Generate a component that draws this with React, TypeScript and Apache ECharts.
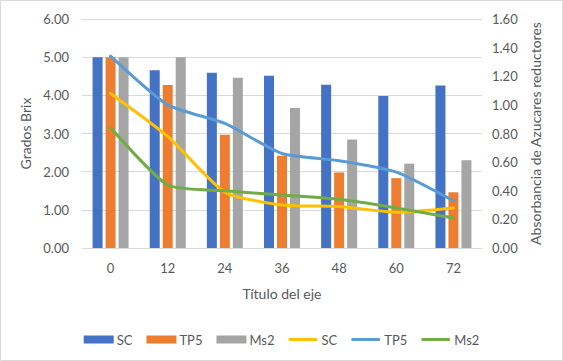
import React, { useEffect, useRef } from "react";
import * as echarts from "echarts";

const categories = ["0", "12", "24", "36", "48", "60", "72"];
const barSC = [5.0, 4.66, 4.59, 4.51, 4.28, 3.98, 4.26];
const barTP5 = [5.0, 4.27, 2.97, 2.42, 1.98, 1.83, 1.46];
const barMs2 = [5.0, 5.0, 4.46, 3.67, 2.84, 2.21, 2.3];
const lineSC = [1.08, 0.78, 0.39, 0.3, 0.29, 0.25, 0.28];
const lineTP5 = [1.34, 1.0, 0.87, 0.66, 0.61, 0.53, 0.33];
const lineMs2 = [0.84, 0.44, 0.4, 0.37, 0.34, 0.28, 0.21];

const FONT = "Lato, 'Open Sans', sans-serif";
const TXT = "#595959";
const LINE_ICON = "path://M0,0L0.001,0M1.5,2.5h29v3h-29a1.5,1.5 0 0 1 0,-3zM32,8L31.999,8";

export default function App() {
  const ref = useRef<HTMLDivElement>(null);
  useEffect(() => {
    if (!ref.current) return;
    const chart = echarts.init(ref.current, undefined, { renderer: "svg" });
    const barCommon = { type: "bar", barWidth: 10, barGap: "30%", yAxisIndex: 0 };
    const lineCommon = {
      type: "line",
      yAxisIndex: 1,
      symbol: "none",
      smooth: 0.2,
      lineStyle: { width: 3, cap: "round", join: "round" },
    };
    chart.setOption({
      animation: false,
      textStyle: { fontFamily: FONT },
      grid: { left: 82, right: 81, top: 19, bottom: 113 },
      graphic: [
        {
          type: "rect",
          shape: { x: 0.5, y: 0.5, width: 562, height: 360 },
          style: { fill: "none", stroke: "#d9d9d9", lineWidth: 1 },
          silent: true,
        },
      ],
      legend: {
        top: 328,
        left: "center",
        itemWidth: 30,
        itemHeight: 8,
        itemGap: 14,
        textStyle: { color: TXT, fontSize: 13, fontFamily: FONT, padding: [0, 0, 0, -2] },
        data: [
          { name: "SC", icon: "rect" },
          { name: "TP5", icon: "rect" },
          { name: "Ms2", icon: "rect" },
          { name: "SC ", icon: LINE_ICON },
          { name: "TP5 ", icon: LINE_ICON },
          { name: "Ms2 ", icon: LINE_ICON },
        ],
        formatter: (n: string) => n.trim(),
      },
      xAxis: {
        type: "category",
        data: categories,
        axisTick: { show: false },
        axisLine: { lineStyle: { color: "#d9d9d9", width: 1 } },
        axisLabel: { color: TXT, fontSize: 13, margin: 13, fontFamily: FONT },
        name: "Título del eje",
        nameLocation: "middle",
        nameGap: 38,
        nameTextStyle: { color: TXT, fontSize: 14, fontFamily: FONT },
      },
      yAxis: [
        {
          type: "value",
          min: 0,
          max: 6,
          interval: 1,
          axisLabel: {
            color: TXT,
            fontSize: 13,
            margin: 13,
            fontFamily: FONT,
            formatter: (v: number) => v.toFixed(2),
          },
          axisLine: { show: false },
          axisTick: { show: false },
          splitLine: { lineStyle: { color: "#d9d9d9", width: 1 } },
          name: "Grados Brix",
          nameLocation: "middle",
          nameGap: 50,
          nameRotate: 90,
          nameTextStyle: { color: TXT, fontSize: 14, fontFamily: FONT },
        },
        {
          type: "value",
          min: 0,
          max: 1.6,
          interval: 0.2,
          axisLabel: {
            color: TXT,
            fontSize: 13,
            margin: 10,
            fontFamily: FONT,
            formatter: (v: number) => v.toFixed(2),
          },
          axisLine: { show: false },
          axisTick: { show: false },
          splitLine: { show: false },
          name: "Absorbancia de Azucares reductores",
          nameLocation: "middle",
          nameGap: 46,
          nameRotate: 90,
          nameTextStyle: { color: TXT, fontSize: 14, fontFamily: FONT },
        },
      ],
      series: [
        { ...barCommon, name: "SC", data: barSC, itemStyle: { color: "#4472C4" } },
        { ...barCommon, name: "TP5", data: barTP5, itemStyle: { color: "#ED7D31" } },
        { ...barCommon, name: "Ms2", data: barMs2, itemStyle: { color: "#A5A5A5" } },
        {
          ...lineCommon,
          name: "SC ",
          data: lineSC,
          itemStyle: { color: "#FFC000" },
          lineStyle: { ...lineCommon.lineStyle, color: "#FFC000" },
        },
        {
          ...lineCommon,
          name: "TP5 ",
          data: lineTP5,
          itemStyle: { color: "#5B9BD5" },
          lineStyle: { ...lineCommon.lineStyle, color: "#5B9BD5" },
        },
        {
          ...lineCommon,
          name: "Ms2 ",
          data: lineMs2,
          itemStyle: { color: "#70AD47" },
          lineStyle: { ...lineCommon.lineStyle, color: "#70AD47" },
        },
      ],
    });
    return () => chart.dispose();
  }, []);
  return (
    <div
      ref={ref}
      style={{ position: "fixed", left: 0, top: 0, width: 563, height: 361, background: "#fff" }}
    />
  );
}
